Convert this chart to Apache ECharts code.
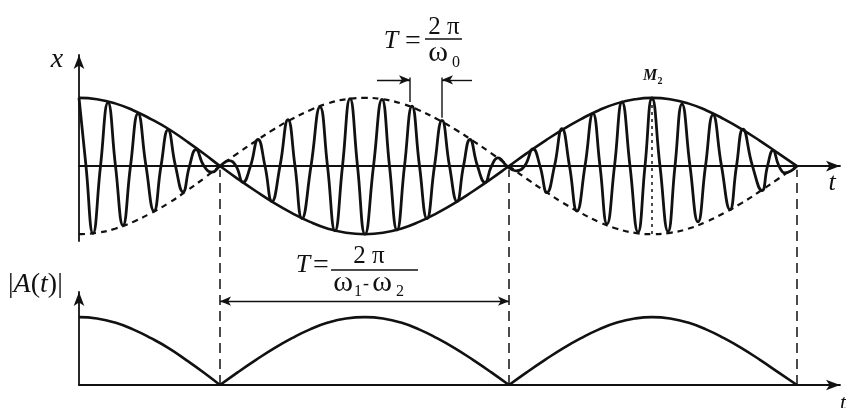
<!DOCTYPE html>
<html>
<head>
<meta charset="utf-8">
<title>Beats</title>
<script src="https://cdn.jsdelivr.net/npm/echarts@6/dist/echarts.min.js"></script>
<style>
  html, body { margin: 0; background: #fff; }
  #chart { width: 846px; height: 408px; }
</style>
</head>
<body>
<div id="chart"></div>
<script>
// time axis t (same units on both plots), amplitudes in units of the envelope maximum
const envT = [0, 18, 36, 54, 72, 90, 108, 125, 141, 159, 177, 195, 213, 231, 249, 267, 286, 304, 322, 340,
  358, 376, 394, 412, 430, 448, 466, 484, 502, 520, 538, 556, 573, 591, 609, 627, 645, 663, 681, 699, 718]
const envA = [1.00, 0.98, 0.92, 0.82, 0.69, 0.54, 0.36, 0.18, 0, -0.19, -0.37, -0.54, -0.69, -0.82, -0.92, -0.98, -1.00, -0.98, -0.92, -0.82,
  -0.69, -0.54, -0.37, -0.19, 0, 0.19, 0.37, 0.54, 0.69, 0.82, 0.92, 0.98, 1.00, 0.98, 0.92, 0.82, 0.69, 0.54, 0.37, 0.19, 0]

// carrier: peaks, troughs and the zero crossings between them
const carrierT = [0, 7, 14, 21.5, 29, 36.5, 44, 51.5, 59, 67, 75, 82, 89, 96.5, 104, 110.5, 117, 125, 133, 141,
  150, 157, 164, 171.5, 179, 186, 193, 201, 209, 216, 223, 232, 241, 248.5, 256, 263.5, 271, 278.5, 286, 294.5,
  303, 310.5, 318, 325.5, 333, 340.5, 348, 355.5, 363, 370.5, 378, 384.5, 391, 398.5, 406, 412.5, 419, 428,
  437, 445.5, 454, 461, 468, 475.5, 483, 490.5, 498, 506, 514, 521, 528, 535.5, 543, 551, 559, 566, 573, 581,
  589, 596, 603, 611, 619, 626.5, 634, 642.5, 651, 657.5, 664, 673.5, 683, 688.5, 694, 700, 706, 718]
const carrierX = [1.00, 0, -0.99, 0, 0.93, 0, -0.87, 0, 0.77, 0, -0.66, 0, 0.53, 0, -0.38, 0, 0.24, 0, -0.09, 0,
  0.08, 0, -0.24, 0, 0.39, 0, -0.52, 0, 0.68, 0, -0.77, 0, 0.87, 0, -0.95, 0, 0.99, 0, -1.00, 0,
  0.98, 0, -0.94, 0, 0.88, 0, -0.77, 0, 0.67, 0, -0.52, 0, 0.39, 0, -0.24, 0, 0.12, 0,
  -0.07, 0, 0.25, 0, -0.39, 0, 0.55, 0, -0.66, 0, 0.77, 0, -0.85, 0, 0.94, 0, -0.97, 0, 1.00, 0,
  -0.96, 0, 0.91, 0, -0.82, 0, 0.75, 0, -0.64, 0, 0.54, 0, -0.36, 0, 0.23, 0, -0.10, 0]

const nodeT = [141, 430, 718]   // envelope zeros
const peakT = 573               // M2
const periodTicks = [331, 363]  // T = 2pi/w0 marks
const periodTickLow = [0.94, 0.71]

const ink = '#111'
const serif = '"Liberation Serif", "Times New Roman", "DejaVu Serif", serif'
const pairs = (ts, vs) => ts.map((t, i) => [t, vs[i]])

const axisLine = {
  symbol: ['none', 'arrow'],
  symbolSize: [8, 14],
  lineStyle: { color: ink, width: 1.8 }
}
const hidden = { axisTick: { show: false }, axisLabel: { show: false }, splitLine: { show: false } }

function line (name, data, grid, style, extra) {
  return Object.assign({
    name: name,
    type: 'line',
    xAxisIndex: grid,
    yAxisIndex: grid,
    data: data,
    showSymbol: false,
    symbol: 'none',
    silent: true,
    lineStyle: Object.assign({ color: ink, width: 2.6 }, style)
  }, extra || {})
}

const series = [
  line('carrier', pairs(carrierT, carrierX), 0, { width: 2.8 }, { smooth: true }),
  line('A', pairs(envT, envA), 0, {}, { smooth: true }),
  line('-A', pairs(envT, envA.map(v => -v)), 0, { width: 2.2, type: [6, 5] }, { smooth: true }),
  line('M2', [[peakT, 1], [peakT, -1]], 0, { width: 1.5, type: [3, 4] })
]

periodTicks.forEach((t, i) => {
  series.push(line('tick' + i, [[t, 1.30], [t, periodTickLow[i]]], 0, { width: 1.4 }))
})
series[series.length - 1].markLine = {
  silent: true,
  symbolSize: [7, 11],
  label: { show: false },
  lineStyle: { color: ink, width: 1.4, type: 'solid' },
  data: [
    [{ coord: [298, 1.265], symbol: 'none' }, { coord: [periodTicks[0], 1.265], symbol: 'arrow' }],
    [{ coord: [393, 1.265], symbol: 'none' }, { coord: [periodTicks[1], 1.265], symbol: 'arrow' }]
  ]
}

// |A(t)| drawn lobe by lobe so the cusps stay sharp
let start = 0
nodeT.forEach((n, k) => {
  const lobe = []
  envT.forEach((t, i) => {
    if (t >= start && t <= n) lobe.push([t, Math.abs(envA[i])])
  })
  series.push(line('|A|' + k, lobe, 1, {}, { smooth: true }))
  start = n
})
series[series.length - 3].markLine = {
  silent: true,
  symbol: ['arrow', 'arrow'],
  symbolSize: [7, 11],
  label: { show: false },
  lineStyle: { color: ink, width: 1.4, type: 'solid' },
  data: [[{ coord: [nodeT[0], 1.235] }, { coord: [nodeT[1], 1.235] }]]
}

nodeT.forEach((n, k) => {
  series.push(line('node' + k, [[n, 0], [n, 3.17]], 1, { width: 1.5, type: [10, 6] }, { clip: false }))
})

function text (str, x, y, size, style) {
  return {
    type: 'text',
    silent: true,
    style: Object.assign({
      text: str,
      x: x,
      y: y,
      fill: ink,
      font: size + 'px ' + serif,
      align: 'center',
      verticalAlign: 'middle'
    }, style || {})
  }
}
const italic = size => ({ font: 'italic ' + size + 'px ' + serif })

const graphic = [
  text('x', 57, 60, 28, italic(28)),
  text('t', 832, 183, 26, italic(26)),
  text('t', 843, 403, 22, italic(22)),
  {
    type: 'text',
    silent: true,
    style: {
      text: '|{i|A}({i|t})|',
      x: 8,
      y: 285,
      fill: ink,
      font: '28px ' + serif,
      align: 'left',
      verticalAlign: 'middle',
      rich: { i: { font: 'italic 28px ' + serif, fill: ink } }
    }
  },
  text('M', 650, 76, 16, { font: 'italic bold 16px ' + serif }),
  text('2', 660, 81, 10, { font: 'bold 10px ' + serif }),
  // T = 2pi / w0
  text('T', 391, 41, 26, italic(26)),
  text('=', 413, 42, 28),
  text('2 π', 444, 27, 25),
  { type: 'line', silent: true, shape: { x1: 425, y1: 39, x2: 462, y2: 39 }, style: { stroke: ink, lineWidth: 1.4 } },
  text('ω', 438, 53, 30),
  text('0', 456, 63, 16),
  // T = 2pi / (w1 - w2)
  text('T', 303, 265, 26, italic(26)),
  text('=', 321, 266, 28),
  text('2 π', 369, 256, 25),
  { type: 'line', silent: true, shape: { x1: 331, y1: 270, x2: 418, y2: 270 }, style: { stroke: ink, lineWidth: 1.4 } },
  text('ω', 343, 283, 30),
  text('1', 358, 292, 16),
  text('-', 366, 284, 18),
  text('ω', 382, 283, 30),
  text('2', 400, 292, 16)
]

const chart = echarts.init(document.getElementById('chart'))
chart.setOption({
  animation: false,
  backgroundColor: '#fff',
  grid: [
    { left: 79, top: 55, width: 761, height: 186 },
    { left: 79, top: 292, width: 761, height: 93 }
  ],
  xAxis: [
    Object.assign({ type: 'value', gridIndex: 0, min: 0, max: 761, axisLine: axisLine }, hidden),
    Object.assign({ type: 'value', gridIndex: 1, min: 0, max: 761, axisLine: axisLine }, hidden)
  ],
  yAxis: [
    Object.assign({ type: 'value', gridIndex: 0, min: -1.1, max: 1.63, axisLine: axisLine }, hidden),
    Object.assign({ type: 'value', gridIndex: 1, min: 0, max: 1.37, axisLine: axisLine }, hidden)
  ],
  graphic: graphic,
  series: series
})
</script>
</body>
</html>
